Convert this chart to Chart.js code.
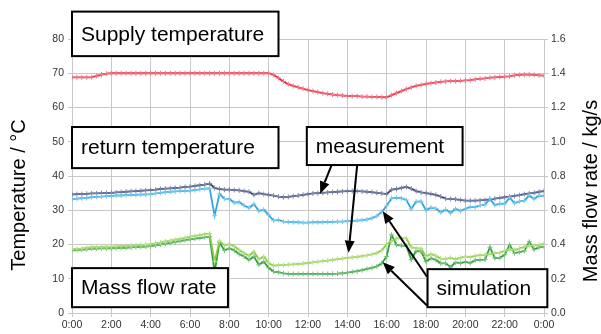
<!DOCTYPE html>
<html>
<head>
<meta charset="utf-8">
<script src="https://cdn.jsdelivr.net/npm/chart.js@4/dist/chart.umd.min.js"></script>
<style>
  html, body { margin: 0; padding: 0; background: #fff; }
  canvas { display: block; }
</style>
</head>
<body>
<canvas id="myChart" width="601" height="334"></canvas>
<script>
// one day, sampled every 15 minutes (0:00 ... 24:00)
let stepHours = 0.25;
let tickHours = [0, 2, 4, 6, 8, 10, 12, 14, 16, 18, 20, 22, 24];

// supply temperature, °C
let supplyTemp = [
  68.8, 68.8, 68.8, 68.8, 68.8, 69.2, 69.6, 69.9,
  70.0, 70.0, 70.0, 70.0, 70.0, 70.0, 70.0, 70.0,
  70.0, 70.0, 70.0, 70.0, 70.0, 70.0, 70.0, 70.0,
  70.0, 70.0, 70.0, 70.0, 70.0, 70.0, 70.0, 70.0,
  70.0, 70.0, 70.0, 70.0, 70.0, 70.0, 70.0, 70.0,
  70.0, 69.5, 68.6, 67.6, 66.8, 66.3, 65.9, 65.5,
  65.1, 64.8, 64.5, 64.2, 64.0, 63.8, 63.6, 63.5,
  63.4, 63.3, 63.3, 63.2, 63.2, 63.1, 63.1, 63.0,
  63.0, 63.6, 64.2, 64.8, 65.4, 65.9, 66.3, 66.6,
  66.9, 67.1, 67.3, 67.5, 67.6, 67.7, 67.7, 67.8,
  67.9, 68.0, 68.2, 68.4, 68.5, 68.7, 68.8, 68.9,
  69.0, 69.1, 69.4, 69.5, 69.6, 69.6, 69.5, 69.4,
  69.3
];

// return temperature, °C
let returnMeasured = [
  34.6, 34.7, 34.7, 34.8, 34.9, 34.9, 35.0, 35.0,
  35.1, 35.2, 35.3, 35.4, 35.5, 35.6, 35.7, 35.8,
  35.9, 36.0, 36.2, 36.3, 36.4, 36.5, 36.6, 36.8,
  36.9, 37.1, 37.3, 37.5, 37.8, 36.5, 36.2, 36.0,
  36.0, 35.9, 35.8, 35.6, 35.4, 34.5, 35.0, 34.7,
  34.5, 34.3, 34.0, 33.8, 33.9, 34.1, 34.3, 34.5,
  34.7, 34.9, 35.0, 35.1, 35.2, 35.3, 35.4, 35.5,
  35.6, 35.6, 35.6, 35.5, 35.4, 35.3, 35.1, 34.9,
  34.7, 36.0, 36.2, 36.5, 36.8, 36.3, 35.6, 35.2,
  35.0, 34.8, 34.5, 34.0, 33.4, 33.3, 33.2, 33.0,
  32.8, 32.8, 32.8, 32.9, 33.0, 33.2, 33.4, 33.6,
  33.8, 34.0, 34.2, 34.4, 34.7, 34.9, 35.1, 35.4,
  35.6
];
let returnSimulated = [
  33.2, 33.4, 33.5, 33.6, 33.8, 33.9, 34.0, 34.1,
  34.2, 34.3, 34.3, 34.4, 34.5, 34.5, 34.6, 34.6,
  34.7, 34.9, 35.1, 35.3, 35.4, 35.5, 35.6, 35.6,
  35.7, 35.9, 36.1, 36.3, 36.4, 28.4, 34.8, 33.4,
  33.3, 32.2, 32.4, 31.4, 30.7, 31.8, 29.8, 30.2,
  28.6, 27.0, 27.2, 26.7, 26.6, 26.5, 26.5, 26.4,
  26.4, 26.5, 26.5, 26.5, 26.6, 26.6, 26.7, 26.7,
  26.8, 26.9, 27.0, 27.1, 27.3, 27.7, 28.3, 29.5,
  31.3, 33.5, 33.6, 33.5, 33.0, 30.4, 32.5, 32.6,
  30.0, 30.8, 30.5, 29.4, 30.2, 29.2, 30.4, 29.8,
  30.4, 31.0, 30.9, 31.4, 31.6, 33.4, 31.5, 31.9,
  31.9, 33.7, 32.1, 32.6, 32.8, 34.3, 33.3, 34.3,
  34.2
];

// mass flow rate, kg/s
let flowMeasured = [
  0.372, 0.374, 0.376, 0.380, 0.384, 0.385, 0.386, 0.387,
  0.388, 0.389, 0.390, 0.391, 0.393, 0.395, 0.397, 0.399,
  0.402, 0.407, 0.412, 0.418, 0.423, 0.428, 0.433, 0.439,
  0.446, 0.450, 0.455, 0.460, 0.464, 0.300, 0.420, 0.395,
  0.402, 0.390, 0.368, 0.350, 0.334, 0.358, 0.314, 0.330,
  0.292, 0.276, 0.280, 0.280, 0.282, 0.284, 0.286, 0.289,
  0.292, 0.296, 0.300, 0.303, 0.306, 0.310, 0.314, 0.318,
  0.322, 0.325, 0.328, 0.332, 0.336, 0.342, 0.350, 0.366,
  0.400, 0.420, 0.436, 0.436, 0.436, 0.384, 0.378, 0.376,
  0.330, 0.345, 0.334, 0.318, 0.316, 0.322, 0.314, 0.322,
  0.330, 0.326, 0.334, 0.338, 0.340, 0.344, 0.350, 0.352,
  0.362, 0.372, 0.368, 0.376, 0.386, 0.394, 0.394, 0.398,
  0.404
];
let flowSimulated = [
  0.366, 0.368, 0.370, 0.372, 0.376, 0.376, 0.377, 0.377,
  0.378, 0.379, 0.380, 0.381, 0.383, 0.385, 0.387, 0.388,
  0.390, 0.395, 0.400, 0.405, 0.410, 0.415, 0.420, 0.425,
  0.430, 0.434, 0.438, 0.442, 0.446, 0.240, 0.410, 0.366,
  0.378, 0.366, 0.344, 0.330, 0.310, 0.330, 0.282, 0.300,
  0.264, 0.242, 0.238, 0.232, 0.228, 0.228, 0.228, 0.228,
  0.228, 0.228, 0.228, 0.228, 0.228, 0.229, 0.230, 0.232,
  0.236, 0.240, 0.244, 0.250, 0.258, 0.264, 0.272, 0.290,
  0.330, 0.456, 0.398, 0.394, 0.392, 0.312, 0.362, 0.360,
  0.300, 0.320, 0.310, 0.290, 0.290, 0.268, 0.296, 0.290,
  0.300, 0.292, 0.308, 0.310, 0.312, 0.384, 0.320, 0.322,
  0.340, 0.398, 0.350, 0.356, 0.362, 0.416, 0.370, 0.384,
  0.388
];

let font = "Arial, 'Liberation Sans', sans-serif";
let tickColor = "#333333";
let gridColor = "#c8c8c8";

function toPoints(values) {
  return values.map((v, i) => ({ x: i * stepHours, y: v }));
}

function series(values, color, marker, axis) {
  return {
    data: toPoints(values),
    yAxisID: axis,
    borderColor: color,
    borderWidth: 1.8,
    pointStyle: "cross",
    pointRadius: 2.5,
    pointBorderWidth: 1,
    pointBorderColor: marker,
    pointBackgroundColor: marker,
    tension: 0,
  };
}

// text boxes, in hours / °C
let notes = [
  { text: "Supply temperature", x0: 0, x1: 10.5, y0: 88, y1: 75 },
  { text: "return temperature", x0: 0, x1: 10.5, y0: 54.3, y1: 42.3 },
  { text: "measurement", x0: 11.94, x1: 19.86, y0: 54.3, y1: 43.2 },
  { text: "Mass flow rate", x0: 0, x1: 7.93, y0: 13.1, y1: 1.7 },
  { text: "simulation", x0: 18.08, x1: 24.17, y0: 12.8, y1: 1.7 },
];

// arrows from the boxes to the curves, in hours / °C
let pointers = [
  { from: [13.2, 43.2], to: [12.62, 34.9] },
  { from: [14.5, 43.2], to: [14.06, 17.6] },
  { from: [18.05, 10.6], to: [15.8, 29.7] },
  { from: [18.05, 2.2], to: [15.8, 14.8] },
];

let annotations = {
  id: "annotations",
  afterDraw(chart) {
    let ctx = chart.ctx;
    let x = chart.scales.x;
    let y = chart.scales.y;
    let area = chart.chartArea;
    ctx.save();

    // arrows
    ctx.strokeStyle = "#000";
    ctx.fillStyle = "#000";
    ctx.lineWidth = 2;
    pointers.forEach((p) => {
      let sx = x.getPixelForValue(p.from[0]);
      let sy = y.getPixelForValue(p.from[1]);
      let ex = x.getPixelForValue(p.to[0]);
      let ey = y.getPixelForValue(p.to[1]);
      let ang = Math.atan2(ey - sy, ex - sx);
      let len = 12;
      let half = 5;
      let bx = ex - len * Math.cos(ang);
      let by = ey - len * Math.sin(ang);
      ctx.beginPath();
      ctx.moveTo(sx, sy);
      ctx.lineTo(bx, by);
      ctx.stroke();
      ctx.beginPath();
      ctx.moveTo(ex, ey);
      ctx.lineTo(bx + half * Math.sin(ang), by - half * Math.cos(ang));
      ctx.lineTo(bx - half * Math.sin(ang), by + half * Math.cos(ang));
      ctx.closePath();
      ctx.fill();
    });

    // boxes
    ctx.font = "21px " + font;
    ctx.textBaseline = "middle";
    ctx.textAlign = "left";
    notes.forEach((n) => {
      let l = x.getPixelForValue(n.x0);
      let r = x.getPixelForValue(n.x1);
      let t = y.getPixelForValue(n.y0);
      let b = y.getPixelForValue(n.y1);
      ctx.fillStyle = "#fff";
      ctx.fillRect(l, t, r - l, b - t);
      ctx.strokeStyle = "#000";
      ctx.lineWidth = 2;
      ctx.strokeRect(l, t, r - l, b - t);
      ctx.fillStyle = "#000";
      ctx.fillText(n.text, l + 9, (t + b) / 2 + 1);
    });

    // axis titles, both read bottom to top
    ctx.font = "20px " + font;
    ctx.textAlign = "center";
    ctx.fillStyle = "#000";
    let cy = area.bottom - 118;
    ctx.translate(19, cy);
    ctx.rotate(-Math.PI / 2);
    ctx.fillText("Temperature / °C", 0, 0);
    ctx.rotate(Math.PI / 2);
    ctx.translate(-19, -cy);
    cy = area.bottom - 122;
    ctx.translate(591, cy);
    ctx.rotate(-Math.PI / 2);
    ctx.fillText("Mass flow rate / kg/s", 0, 0);
    ctx.restore();
  },
};

let myChart = new Chart(document.getElementById("myChart"), {
  type: "line",
  data: {
    datasets: [
      series(supplyTemp, "#e4233b", "#f07a88", "y"),
      series(returnSimulated, "#2ea7e0", "#7cc8ee", "y"),
      series(returnMeasured, "#37456f", "#7d87ad", "y"),
      series(flowMeasured, "#8dcb45", "#b8e08a", "y1"),
      series(flowSimulated, "#2f9e3c", "#76c27c", "y1"),
    ],
  },
  options: {
    responsive: false,
    animation: false,
    devicePixelRatio: 1,
    layout: { padding: { top: 39, left: 0, right: 0, bottom: 0 } },
    plugins: {
      legend: { display: false },
      tooltip: { enabled: false },
    },
    scales: {
      x: {
        type: "linear",
        min: 0,
        max: 24,
        afterBuildTicks: (s) => { s.ticks = tickHours.map((v) => ({ value: v })); },
        afterFit: (s) => { s.height = 21; },
        ticks: {
          callback: (v) => (v % 24) + ":00",
          color: tickColor,
          font: { family: font, size: 10.5 },
          padding: 2,
          maxRotation: 0,
        },
        grid: { color: gridColor, tickLength: 4 },
        border: { color: gridColor },
      },
      y: {
        position: "left",
        min: 0,
        max: 80,
        ticks: {
          stepSize: 10,
          color: tickColor,
          font: { family: font, size: 10.5 },
          padding: 4,
        },
        afterFit: (s) => { s.width = 72; },
        grid: { color: gridColor, tickLength: 4 },
        border: { color: gridColor },
      },
      y1: {
        position: "right",
        min: 0,
        max: 1.6,
        ticks: {
          stepSize: 0.2,
          callback: (v) => v.toFixed(1),
          color: tickColor,
          font: { family: font, size: 10.5 },
          padding: 3,
        },
        afterFit: (s) => { s.width = 57; },
        grid: { drawOnChartArea: false, color: gridColor, tickLength: 4 },
        border: { color: gridColor },
      },
    },
  },
  plugins: [annotations],
});
</script>
</body>
</html>
